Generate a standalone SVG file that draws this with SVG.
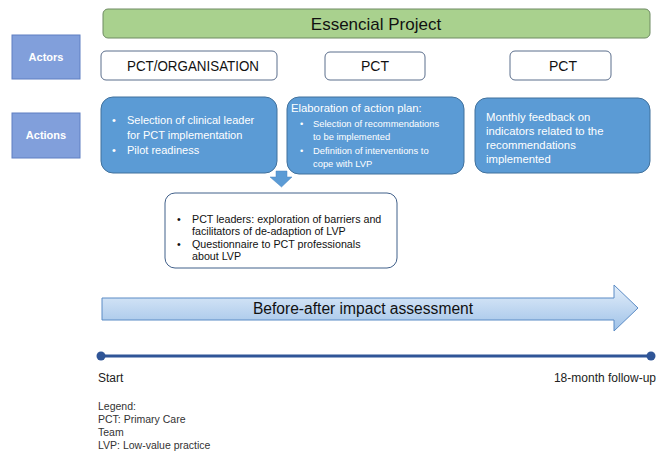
<svg xmlns="http://www.w3.org/2000/svg" width="665" height="452" viewBox="0 0 665 452">
<defs>
<linearGradient id="ag" x1="0" y1="0" x2="0" y2="1">
<stop offset="0" stop-color="#e3eefa"/>
<stop offset="1" stop-color="#9fc2e8"/>
</linearGradient>
<style>
text{font-family:"Liberation Sans",Arial,sans-serif}
.side{fill:#819fdb;stroke:#5f7fc2;stroke-width:1}
.sidet{fill:#fff;font-weight:bold;font-size:11px;text-anchor:middle}
.actor{fill:#fff;stroke:#5b6e8c;stroke-width:1}
.actort{fill:#111;font-size:14px;text-anchor:middle}
.act{fill:#5b9bd5;stroke:#41719c;stroke-width:1}
.wt{fill:#fff;font-size:11px}
.wt3{fill:#fff;font-size:11.3px}
.st{fill:#fff;font-size:9.4px}
.bt{fill:#111;font-size:10.7px}
.small{fill:#222;font-size:12px}
.leg{fill:#333;font-size:10.5px}
</style>
</defs>
<g id="project">
<rect x="103" y="9" width="547" height="29" rx="5" fill="#a9d18e" stroke="#6e8b62" stroke-width="1"/>
<text x="376" y="30" text-anchor="middle" font-size="17" fill="#111">Essencial Project</text>
</g>
<g id="actors-label">
<rect class="side" x="12" y="35" width="68" height="44"/>
<text class="sidet" x="46" y="61">Actors</text>
</g>
<g id="actions-label">
<rect class="side" x="12" y="113" width="68" height="45"/>
<text class="sidet" x="46" y="139">Actions</text>
</g>
<g id="actor1">
<rect class="actor" x="101" y="51" width="176" height="29" rx="5"/>
<text class="actort" x="193" y="71" textLength="132" lengthAdjust="spacingAndGlyphs">PCT/ORGANISATION</text>
</g>
<g id="actor2">
<rect class="actor" x="325" y="52" width="100" height="28" rx="5"/>
<text class="actort" x="375" y="71">PCT</text>
</g>
<g id="actor3">
<rect class="actor" x="510" y="51" width="101" height="29" rx="5"/>
<text class="actort" x="563" y="71">PCT</text>
</g>
<g id="action1">
<rect class="act" x="101" y="97" width="176" height="76" rx="12"/>
<text class="wt" x="112" y="124">•</text>
<text class="wt" x="127" y="124">Selection of clinical leader</text>
<text class="wt" x="127" y="139">for PCT implementation</text>
<text class="wt" x="112" y="154">•</text>
<text class="wt" x="127" y="154">Pilot readiness</text>
</g>
<g id="action2">
<rect class="act" x="287" y="97" width="177" height="77" rx="12"/>
<text class="wt3" x="291" y="112">Elaboration of action plan:</text>
<text class="st" x="300" y="127">•</text>
<text class="st" x="313" y="127">Selection  of recommendations</text>
<text class="st" x="313" y="140">to be implemented</text>
<text class="st" x="300" y="154">•</text>
<text class="st" x="313" y="154">Definition  of interventions  to</text>
<text class="st" x="313" y="167">cope with LVP</text>
</g>
<g id="action3">
<rect class="act" x="475" y="98" width="175" height="75" rx="12"/>
<text class="wt3" x="486" y="121">Monthly feedback on</text>
<text class="wt3" x="486" y="135">indicators related to the</text>
<text class="wt3" x="486" y="149">recommendations</text>
<text class="wt3" x="486" y="163">implemented</text>
</g>
<g id="exploration">
<rect x="165" y="193" width="232" height="75" rx="10" fill="#fff" stroke="#41608a" stroke-width="1"/>
<text class="bt" x="177" y="223">•</text>
<text class="bt" x="192" y="223">PCT leaders:  exploration of barriers and</text>
<text class="bt" x="192" y="235">facilitators of de-adaption of LVP</text>
<text class="bt" x="177" y="248">•</text>
<text class="bt" x="192" y="248">Questionnaire to PCT professionals</text>
<text class="bt" x="192" y="260">about LVP</text>
</g>
<g id="connectors">
<path d="M276,171 H287 V177 H292 L281.5,187 L270,177 H276 Z" fill="#5b9bd5" stroke="#4a86c0" stroke-width="0.5"/>
</g>
<g id="assessment">
<path d="M102,298 H614 V285 L638,308 L614,331 V320 H102 Z" fill="url(#ag)" stroke="#5b8bc5" stroke-width="1"/>
<text x="363" y="314" text-anchor="middle" font-size="15.6" fill="#111">Before-after impact assessment</text>
</g>
<g id="timeline">
<line x1="101" y1="356" x2="651" y2="356" stroke="#2f5597" stroke-width="3"/>
<circle cx="101" cy="356" r="4.5" fill="#2f5597"/>
<circle cx="651" cy="356" r="4.5" fill="#2f5597"/>
<text class="small" x="98" y="382">Start</text>
<text class="small" x="656" y="382" text-anchor="end">18-month follow-up</text>
</g>
<g id="legend">
<text class="leg" x="98" y="410">Legend:</text>
<text class="leg" x="98" y="423">PCT: Primary Care</text>
<text class="leg" x="98" y="436">Team</text>
<text class="leg" x="98" y="449">LVP: Low-value practice</text>
</g>
</svg>
